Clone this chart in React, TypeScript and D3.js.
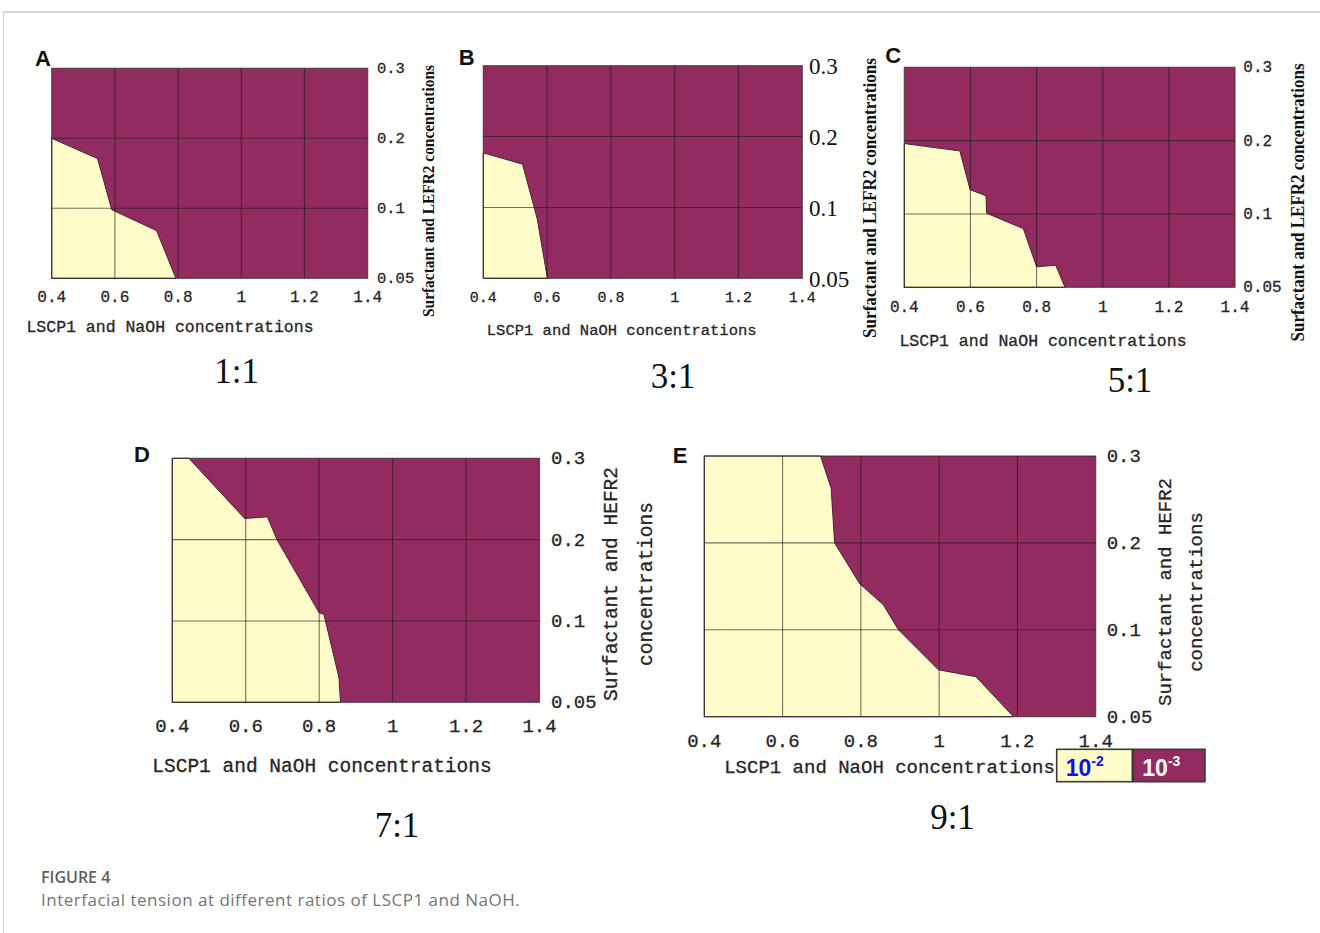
import * as d3 from "d3";

// axis values shared by all five panels
const xTicks = [0.4, 0.6, 0.8, 1, 1.2, 1.4];
const xTickLabels = ["0.4", "0.6", "0.8", "1", "1.2", "1.4"];
const yTicks = [0.05, 0.1, 0.2, 0.3];
const yTickLabels = ["0.05", "0.1", "0.2", "0.3"];

const letters = ["A", "B", "C", "D", "E"];
const ratios = ["1:1", "3:1", "5:1", "7:1", "9:1"];

// outline of the 10^-2 (yellow) region: [LSCP1+NaOH, surfactant+EFR2]
const regionA = [[0.4, 0.2], [0.545, 0.171], [0.59, 0.099], [0.732, 0.084], [0.793, 0.05], [0.4, 0.05]];
const regionB = [[0.4, 0.177], [0.523, 0.161], [0.569, 0.092], [0.601, 0.05], [0.4, 0.05]];
const regionC = [
  [0.4, 0.196], [0.568, 0.186], [0.599, 0.133], [0.647, 0.125], [0.649, 0.101],
  [0.76, 0.09], [0.8, 0.064], [0.858, 0.065], [0.886, 0.05], [0.4, 0.05],
];
const regionD = [
  [0.4, 0.3], [0.445, 0.3], [0.597, 0.226], [0.659, 0.228], [0.685, 0.2],
  [0.8, 0.11], [0.813, 0.108], [0.854, 0.065], [0.858, 0.05], [0.4, 0.05],
];
const regionE = [
  [0.4, 0.3], [0.697, 0.3], [0.724, 0.263], [0.733, 0.2], [0.797, 0.153],
  [0.857, 0.129], [0.896, 0.1], [0.998, 0.077], [1.094, 0.073], [1.19, 0.05], [0.4, 0.05],
];
const regions = [regionA, regionB, regionC, regionD, regionE];

const legendBase = ["10", "10"];
const legendExp = ["-2", "-3"];

const PURPLE = "#922c60";
const YELLOW = "#fffcc9";
const MONO = "'Liberation Mono', 'DejaVu Sans Mono', monospace";
const SERIF = "'Liberation Serif', 'Times New Roman', serif";
const SANS = "'Liberation Sans', Arial, sans-serif";
const INK = "#262626";

// layout per panel
const layout = [
  {
    left: 51.7, right: 367.7, top: 68.3, bottom: 278.3, letter: [43, 58],
    xTickY: 298.3, xTickSize: 16, yTickX: 377, yTickSize: 15.5, yTickFont: MONO,
    xTitle: [170, 327.3, 16.5], ratio: [236.7, 383.3],
    yTitle: { x: 428, y: 191, len: 252, lines: ["Surfactant and LEFR2 concentrations"], bold: true, size: 17 },
  },
  {
    left: 483.3, right: 802.3, top: 65.7, bottom: 278.3, letter: [466.7, 57.3],
    xTickY: 298.3, xTickSize: 15, yTickX: 809, yTickSize: 23, yTickFont: SERIF,
    xTitle: [621.7, 330.7, 15.5], ratio: [673, 388.3],
    yTitle: { x: 870, y: 198, len: 280, lines: ["Surfactant and LEFR2 concentrations"], bold: true, size: 18 },
  },
  {
    left: 904.3, right: 1235, top: 67.3, bottom: 287.3, letter: [893.3, 55],
    xTickY: 308.3, xTickSize: 16, yTickX: 1243.3, yTickSize: 16, yTickFont: MONO,
    xTitle: [1043, 341.7, 16.5], ratio: [1130, 391.7],
    yTitle: { x: 1298, y: 202.5, len: 278, lines: ["Surfactant and LEFR2 concentrations"], bold: true, size: 18 },
  },
  {
    left: 172.3, right: 539.5, top: 458.3, bottom: 702.3, letter: [142, 454],
    xTickY: 727.3, xTickSize: 19, yTickX: 551, yTickSize: 19, yTickFont: MONO,
    xTitle: [322, 766.5, 19.5], ratio: [397, 836.5],
    yTitle: { x: 611.7, y: 584, gap: 35, lines: ["Surfactant and HEFR2", "concentrations"], bold: false, size: 19.5 },
  },
  {
    left: 704.3, right: 1095.7, top: 456, bottom: 716.7, letter: [680, 455],
    xTickY: 741.7, xTickSize: 19, yTickX: 1106.7, yTickSize: 19, yTickFont: MONO,
    xTitle: [889.5, 768.3, 19], ratio: [952.5, 829],
    yTitle: { x: 1166, y: 592, gap: 30.7, lines: ["Surfactant and HEFR2", "concentrations"], bold: false, size: 19 },
  },
];

function Panel({ i }: { i: number }) {
  const L = layout[i];
  const x = d3.scaleLinear().domain([0.4, 1.4]).range([L.left, L.right]);
  const step = (L.bottom - L.top) / (yTicks.length - 1);
  const y = d3
    .scaleLinear()
    .domain(yTicks)
    .range(yTicks.map((_, k) => L.bottom - k * step));
  const path = d3.line()(regions[i].map(([a, b]) => [x(a), y(b)] as [number, number])) + "Z";
  const yt = L.yTitle;
  const monoInk = { fill: INK, stroke: INK, strokeWidth: 0.3 };

  return (
    <g>
      <rect x={L.left} y={L.top} width={L.right - L.left} height={L.bottom - L.top} fill={PURPLE} />
      <path d={path} fill={YELLOW} stroke="#4a2236" strokeWidth={1} strokeLinejoin="round" />
      {xTicks.slice(1, -1).map((t) => (
        <line key={"vx" + t} x1={x(t)} x2={x(t)} y1={L.top} y2={L.bottom} stroke="#1c1c1c" strokeOpacity={0.62} strokeWidth={1.1} />
      ))}
      {yTicks.slice(1, -1).map((t) => (
        <line key={"hy" + t} x1={L.left} x2={L.right} y1={y(t)} y2={y(t)} stroke="#1c1c1c" strokeOpacity={0.62} strokeWidth={1.1} />
      ))}
      <rect x={L.left} y={L.top} width={L.right - L.left} height={L.bottom - L.top} fill="none" stroke="#2a2a2a" strokeOpacity={0.7} strokeWidth={1.2} />

      {xTicks.map((t, k) => (
        <text key={"xt" + t} x={x(t)} y={L.xTickY} textAnchor="middle" dominantBaseline="central"
          fontFamily={MONO} fontSize={L.xTickSize} {...monoInk}>
          {xTickLabels[k]}
        </text>
      ))}
      {yTicks.map((t, k) => (
        <text key={"yt" + t} x={L.yTickX} y={y(t) + 1} dominantBaseline="central"
          fontFamily={L.yTickFont} fontSize={L.yTickSize}
          {...(L.yTickFont === SERIF ? { fill: "#111" } : monoInk)}>
          {yTickLabels[k]}
        </text>
      ))}

      <text x={L.xTitle[0]} y={L.xTitle[1]} textAnchor="middle" dominantBaseline="central"
        fontFamily={MONO} fontSize={L.xTitle[2]} {...monoInk}>
        LSCP1 and NaOH concentrations
      </text>

      {yt.lines.map((s, k) => (
        <text key={s}
          transform={`translate(${yt.x + k * (yt.gap || 0)},${yt.y}) rotate(-90)`}
          textAnchor="middle" dominantBaseline="central"
          fontFamily={yt.bold ? SERIF : MONO} fontWeight={yt.bold ? 700 : 400}
          fontSize={yt.size}
          {...(yt.bold ? { fill: "#111" } : monoInk)}
          textLength={yt.len} lengthAdjust={yt.len ? "spacingAndGlyphs" : undefined}>
          {s}
        </text>
      ))}

      <text x={L.letter[0]} y={L.letter[1]} textAnchor="middle" dominantBaseline="central"
        fontFamily={SANS} fontWeight={700} fontSize={22} fill="#111">
        {letters[i]}
      </text>
      <text x={L.ratio[0]} y={L.ratio[1]} textAnchor="middle" fontFamily={SERIF} fontSize={35} fill="#111">
        {ratios[i]}
      </text>
    </g>
  );
}

function Legend() {
  const boxes = [
    { x0: 1056.7, x1: 1132.3, fill: YELLOW, color: "#1010e0" },
    { x0: 1133.3, x1: 1205, fill: PURPLE, color: "#ffffff" },
  ];
  const top = 749.3;
  const bottom = 781.7;
  return (
    <g>
      {boxes.map((b, k) => (
        <g key={k}>
          <rect x={b.x0} y={top} width={b.x1 - b.x0} height={bottom - top} fill={b.fill} stroke="#3a3a3a" strokeWidth={1.6} />
          <text x={b.x0 + 9} y={776} fontFamily={SANS} fontWeight={700} fontSize={23} fill={b.color}>
            {legendBase[k]}
            <tspan fontSize={14} dy={-10}>{legendExp[k]}</tspan>
          </text>
        </g>
      ))}
    </g>
  );
}

export default function App() {
  return (
    <svg width={1320} height={933} viewBox="0 0 1320 933"
      style={{ position: "absolute", left: 0, top: 0, background: "#fff" }}>
      <line x1={3} x2={1320} y1={12} y2={12} stroke="#d6d6d6" strokeWidth={2} />
      <line x1={3.5} x2={3.5} y1={12} y2={933} stroke="#d0d0d0" strokeWidth={1} />
      {layout.map((_, i) => (
        <Panel key={i} i={i} />
      ))}
      <Legend />
      <text x={41} y={883} fontFamily="'Open Sans', sans-serif" fontWeight={600} fontSize={16} fill="#5e5e5e">
        FIGURE 4
      </text>
      <text x={41} y={906} fontFamily="'Open Sans', sans-serif" fontWeight={400} fontSize={17}
        letterSpacing={0.5} fill="#747474">
        Interfacial tension at different ratios of LSCP1 and NaOH.
      </text>
    </svg>
  );
}
